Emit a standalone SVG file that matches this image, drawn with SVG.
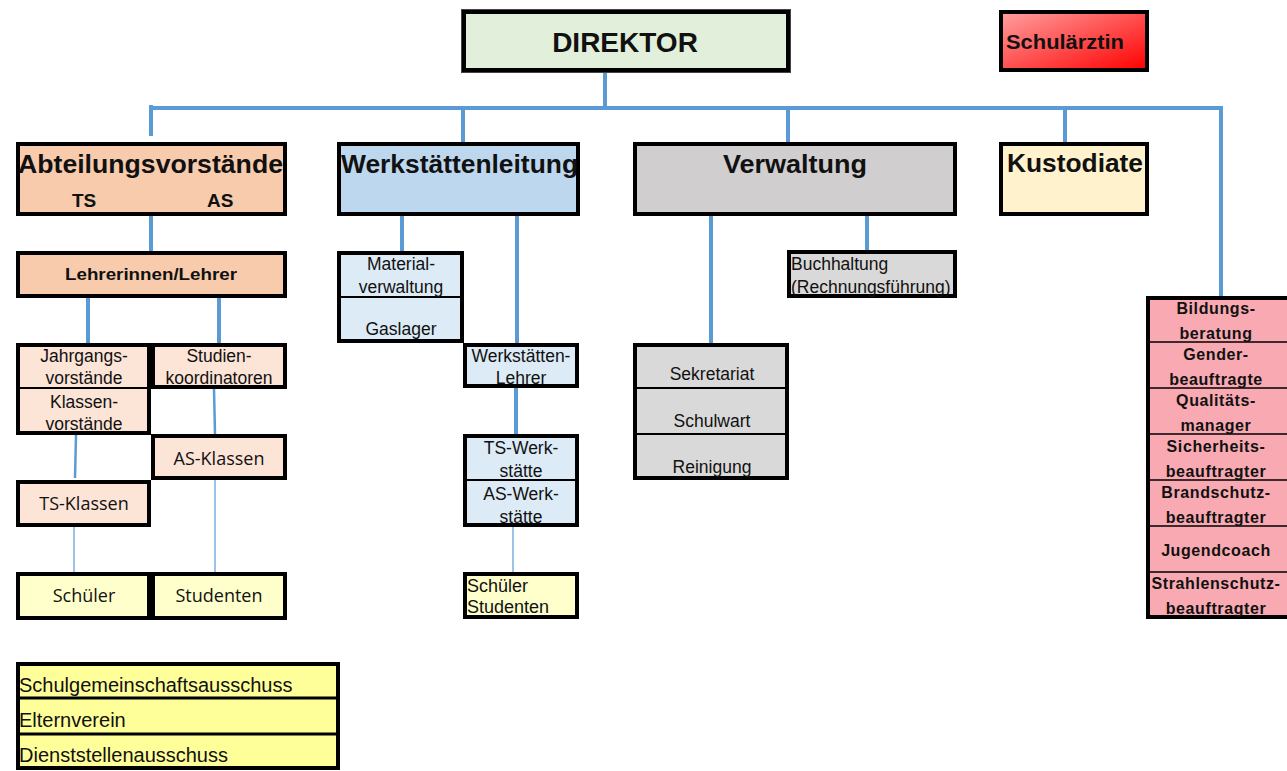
<svg xmlns="http://www.w3.org/2000/svg" width="1287" height="771" viewBox="0 0 1287 771">
<defs>
<linearGradient id="red" x1="0" y1="0" x2="1" y2="1">
<stop offset="0" stop-color="#ffa0a0"/>
<stop offset="1" stop-color="#ff0000"/>
</linearGradient>
<style>
.b{stroke:#000;stroke-width:4}
.s{stroke:#000;stroke-width:2;fill:none}
.c{stroke:#5b9bd5;stroke-width:4;fill:none}
.c2{stroke:#5b9bd5;stroke-width:2.5;fill:none}
.c1{stroke:#5b9bd5;stroke-width:1.2;fill:none}
text{font-family:"Liberation Sans",Arial,sans-serif;fill:#111}
.h{font-size:25px;font-weight:bold}
.r{font-size:17.5px}
.rm{font-size:17.5px;text-anchor:middle}
.bm{font-size:16px;font-weight:bold;text-anchor:middle;letter-spacing:0.6px}
.o{font-family:"Open Sans","Liberation Sans",sans-serif;font-size:18px;text-anchor:middle}
.y{font-size:20px}
</style>
</defs>
<rect width="1287" height="771" fill="#fff"/>
<g id="connectors">
<path class="c" d="M605,72 V108 M151,105 V136 M151,108 H1221 V296 M463,108 V142 M788,108 V142 M1065,108 V142"/>
<path class="c" d="M151,216 V251 M88,298 V343 M219,298 V343"/>
<path class="c2" d="M214,389 L215,434 M76,435 L75,478"/>
<path class="c1" d="M74,527 V572 M215,480 V572"/>
<path class="c" d="M402,216 V251 M517,216 V343 M516,388 V434"/>
<path class="c1" d="M513,527 V572"/>
<path class="c" d="M711,216 V343 M867,216 V250"/>
</g>
<g id="direktor">
<rect x="461.5" y="9.5" width="329" height="63" fill="none" stroke="#444" stroke-width="1"/>
<rect class="b" x="464" y="12" width="324" height="58" fill="#e2efda"/>
<text x="625" y="52" font-size="28" font-weight="bold" text-anchor="middle">DIREKTOR</text>
</g>
<g id="schulaerztin">
<rect class="b" x="1001" y="12" width="146" height="58" fill="url(#red)"/>
<text x="1006" y="49" font-size="21" font-weight="bold" textLength="118" lengthAdjust="spacingAndGlyphs">Schulärztin</text>
</g>
<g id="abteilungsvorstaende">
<rect class="b" x="18" y="144" width="267" height="70" fill="#f8cbad"/>
<text class="h" x="18" y="173" textLength="265" lengthAdjust="spacingAndGlyphs">Abteilungsvorstände</text>
<text x="72" y="207" font-size="19" font-weight="bold">TS</text>
<text x="207" y="207" font-size="19" font-weight="bold">AS</text>
</g>
<g id="werkstaettenleitung">
<rect class="b" x="339" y="144" width="239" height="70" fill="#bdd7ee"/>
<text class="h" x="341" y="173" textLength="237" lengthAdjust="spacingAndGlyphs">Werkstättenleitung</text>
</g>
<g id="verwaltung">
<rect class="b" x="635" y="144" width="320" height="70" fill="#d0cece"/>
<text class="h" x="723" y="173" textLength="144" lengthAdjust="spacingAndGlyphs">Verwaltung</text>
</g>
<g id="kustodiate">
<rect class="b" x="1001" y="144" width="146" height="70" fill="#fff2cc"/>
<text class="h" x="1007" y="172" textLength="136" lengthAdjust="spacingAndGlyphs">Kustodiate</text>
</g>
<g id="lehrer">
<rect class="b" x="18" y="253" width="267" height="43" fill="#f8cbad"/>
<text x="151" y="280" font-size="16.5" font-weight="bold" text-anchor="middle" textLength="172" lengthAdjust="spacingAndGlyphs">Lehrerinnen/Lehrer</text>
</g>
<g id="jahrgangsvorstaende">
<rect class="b" x="18" y="345" width="131" height="88" fill="#fce4d6"/>
<line class="s" x1="18" y1="388" x2="149" y2="388"/>
<text class="rm" x="84" y="362">Jahrgangs-</text>
<text class="rm" x="84" y="384">vorstände</text>
<text class="rm" x="84" y="408">Klassen-</text>
<text class="rm" x="84" y="430">vorstände</text>
</g>
<g id="studienkoordinatoren">
<rect class="b" x="153" y="345" width="132" height="42" fill="#fce4d6"/>
<text class="rm" x="219" y="362">Studien-</text>
<text class="rm" x="219" y="384">koordinatoren</text>
</g>
<g id="as-klassen">
<rect class="b" x="153" y="436" width="132" height="42" fill="#fce4d6"/>
<text class="o" x="219" y="465" font-size="18.5">AS-Klassen</text>
</g>
<g id="ts-klassen">
<rect class="b" x="18" y="482" width="131" height="43" fill="#fce4d6"/>
<text class="o" x="84" y="510" font-size="18.5">TS-Klassen</text>
</g>
<g id="schueler">
<rect class="b" x="18" y="574" width="131" height="44" fill="#ffffcc"/>
<text class="o" x="84" y="602">Schüler</text>
</g>
<g id="studenten">
<rect class="b" x="153" y="574" width="132" height="44" fill="#ffffcc"/>
<text class="o" x="219" y="602">Studenten</text>
</g>
<g id="materialverwaltung">
<rect class="b" x="339" y="253" width="123" height="88" fill="#ddebf7"/>
<line class="s" x1="339" y1="297" x2="462" y2="297"/>
<text class="rm" x="401" y="270">Material-</text>
<text class="rm" x="401" y="293">verwaltung</text>
<text class="rm" x="401" y="335">Gaslager</text>
</g>
<g id="werkstaetten-lehrer">
<rect class="b" x="465" y="345" width="112" height="41" fill="#ddebf7"/>
<text class="rm" x="521" y="362">Werkstätten-</text>
<text class="rm" x="521" y="384">Lehrer</text>
</g>
<g id="werkstaetten">
<rect class="b" x="465" y="436" width="112" height="89" fill="#ddebf7"/>
<line class="s" x1="465" y1="480" x2="577" y2="480"/>
<text class="rm" x="521" y="454">TS-Werk-</text>
<text class="rm" x="521" y="477">stätte</text>
<text class="rm" x="521" y="500">AS-Werk-</text>
<text class="rm" x="521" y="523">stätte</text>
</g>
<g id="schueler-studenten">
<rect class="b" x="465" y="574" width="112" height="43" fill="#ffffcc"/>
<text x="467" y="592" font-size="18">Schüler</text>
<text x="467" y="613" font-size="18">Studenten</text>
</g>
<g id="buchhaltung">
<rect class="b" x="789" y="252" width="166" height="44" fill="#d9d9d9"/>
<text class="r" x="791" y="270">Buchhaltung</text>
<text class="r" x="791" y="293">(Rechnungsführung)</text>
</g>
<g id="sekretariat">
<rect class="b" x="635" y="345" width="152" height="133" fill="#d9d9d9"/>
<line class="s" x1="635" y1="388" x2="787" y2="388"/>
<line class="s" x1="635" y1="434" x2="787" y2="434"/>
<text class="rm" x="712" y="380">Sekretariat</text>
<text class="rm" x="712" y="427">Schulwart</text>
<text class="rm" x="712" y="473">Reinigung</text>
</g>
<g id="beauftragte">
<rect class="b" x="1148" y="298" width="142" height="319" fill="#f8a9b1"/>
<path stroke="#000" stroke-width="1.5" d="M1148,342 H1287 M1148,388 H1287 M1148,434 H1287 M1148,480 H1287 M1148,526 H1287 M1148,572 H1287"/>
<text class="bm" x="1216" y="314">Bildungs-</text>
<text class="bm" x="1216" y="339">beratung</text>
<text class="bm" x="1216" y="360">Gender-</text>
<text class="bm" x="1216" y="385">beauftragte</text>
<text class="bm" x="1216" y="406">Qualitäts-</text>
<text class="bm" x="1216" y="431">manager</text>
<text class="bm" x="1216" y="452">Sicherheits-</text>
<text class="bm" x="1216" y="477">beauftragter</text>
<text class="bm" x="1216" y="498">Brandschutz-</text>
<text class="bm" x="1216" y="523">beauftragter</text>
<text class="bm" x="1216" y="556">Jugendcoach</text>
<text class="bm" x="1216" y="589">Strahlenschutz-</text>
<text class="bm" x="1216" y="614">beauftragter</text>
</g>
<g id="gremien">
<rect class="b" x="18" y="664" width="320" height="104" fill="#ffff99"/>
<path stroke="#000" stroke-width="3" d="M18,698 H338 M18,734 H338"/>
<text class="y" x="19" y="692">Schulgemeinschaftsausschuss</text>
<text class="y" x="19" y="727">Elternverein</text>
<text class="y" x="19" y="762">Dienststellenausschuss</text>
</g>
</svg>
